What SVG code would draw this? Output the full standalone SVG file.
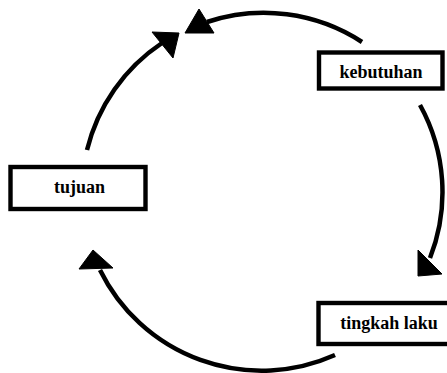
<svg xmlns="http://www.w3.org/2000/svg" width="447" height="373" viewBox="0 0 447 373">
<style>
.box{fill:#fff;stroke:#000;stroke-width:4.4}
.lbl{font-family:"Liberation Serif","Times New Roman",serif;font-weight:bold;font-size:18px;fill:#000;text-anchor:middle}
.arc{fill:none;stroke:#000;stroke-width:4.5}
.head{fill:#000;stroke:#000;stroke-width:1;stroke-linejoin:round}
</style>
<rect width="447" height="373" fill="#fff"/>
<g id="connectors">
<path class="arc" d="M362,42 A180,180 0 0 0 207,22"/>
<polygon class="head" points="199,9 185,33 214,33"/>
<path class="arc" d="M87,150 A180,180 0 0 1 162,43"/>
<polygon class="head" points="152,32 179,33 173,58"/>
<path class="arc" d="M420,105 A180,180 0 0 1 430,258"/>
<polygon class="head" points="418,250 418,276 442,274"/>
<path class="arc" d="M335,355 A180,180 0 0 1 100,270"/>
<polygon class="head" points="93,250 79,269 113,268"/>
</g>
<g id="kebutuhan">
<rect class="box" x="319" y="52.5" width="123.5" height="36"/>
<text class="lbl" x="381" y="78">kebutuhan</text>
</g>
<g id="tujuan">
<rect class="box" x="10.5" y="167" width="135" height="42"/>
<text class="lbl" x="79.5" y="193">tujuan</text>
</g>
<g id="tingkah-laku">
<rect class="box" x="318.5" y="303" width="135" height="41"/>
<text class="lbl" x="389" y="329">tingkah laku</text>
</g>
</svg>
